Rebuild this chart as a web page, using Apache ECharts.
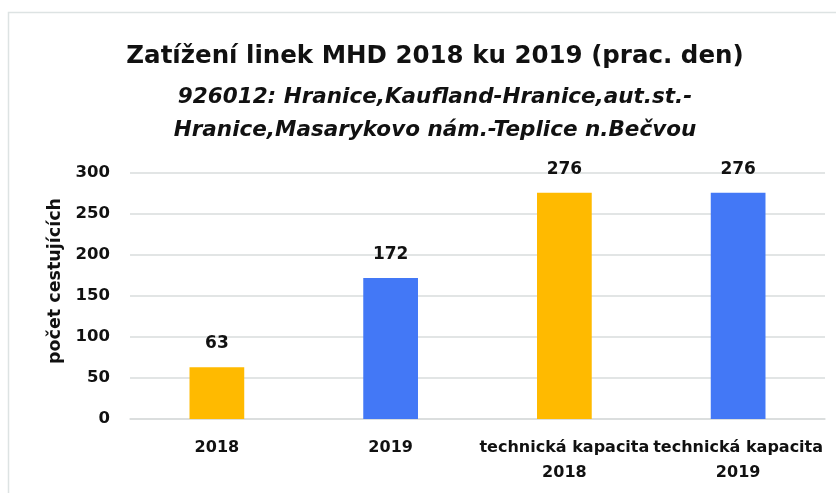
<!DOCTYPE html>
<html>
<head>
<meta charset="utf-8">
<script src="https://cdn.jsdelivr.net/npm/echarts@6/dist/echarts.min.js"></script>
<style>
  html, body { margin: 0; padding: 0; background: #fff; }
  #chart { width: 836px; height: 493px; }
</style>
</head>
<body>
<div id="chart"></div>
<script>
// Passenger load, line 926012, working day
const categories = ['2018', '2019', 'technická kapacita\n2018', 'technická kapacita\n2019'];
const passengers = [63, 172, 276, 276];
const barColors = ['#FFBA00', '#4378F6', '#FFBA00', '#4378F6'];
const yTicks = [0, 50, 100, 150, 200, 250, 300];

const titleText = 'Zatížení linek MHD 2018 ku 2019 (prac. den)';
const subtitleText = '926012: Hranice,Kaufland-Hranice,aut.st.-\nHranice,Masarykovo nám.-Teplice n.Bečvou';
const yAxisName = 'počet cestujících';

const FONT = '"DejaVu Sans", sans-serif';

const chart = echarts.init(document.getElementById('chart'), null, { renderer: 'canvas' });

chart.setOption({
  backgroundColor: '#ffffff',
  animation: false,
  graphic: [{
    // chart-area frame
    type: 'rect',
    shape: { x: 8.5, y: 12.5, width: 840, height: 500 },
    style: { fill: 'none', stroke: '#dde3e3', lineWidth: 1.5 },
    silent: true
  }, {
    // value axis title, rotated
    type: 'text',
    x: 55,
    y: 281,
    rotation: Math.PI / 2,
    style: {
      text: yAxisName,
      align: 'center',
      verticalAlign: 'middle',
      font: 'bold 17.5px "DejaVu Sans", sans-serif',
      fill: '#111'
    },
    silent: true
  }],
  title: [{
    text: titleText,
    left: 430,
    top: 39,
    textAlign: 'center',
    textStyle: { fontFamily: FONT, fontWeight: 'bold', fontSize: 24.5, color: '#111' }
  }, {
    text: subtitleText,
    left: 430,
    top: 76,
    textAlign: 'center',
    textStyle: {
      fontFamily: FONT, fontWeight: 'bold', fontStyle: 'italic',
      fontSize: 21.5, lineHeight: 33, color: '#111'
    }
  }],
  grid: { left: 130, right: 11, top: 173, bottom: 74, containLabel: false },
  xAxis: {
    type: 'category',
    data: categories,
    axisLine: { show: true, lineStyle: { color: '#d9dcdc', width: 1.5 } },
    axisTick: { show: false },
    axisLabel: {
      interval: 0,
      margin: 16,
      fontFamily: FONT, fontWeight: 'bold', fontSize: 16, color: '#111',
      lineHeight: 25
    }
  },
  yAxis: {
    type: 'value',
    min: yTicks[0],
    max: yTicks[yTicks.length - 1],
    interval: yTicks[1] - yTicks[0],
    axisLine: { show: false },
    axisTick: { show: false },
    splitLine: { lineStyle: { color: '#d9dcdc', width: 1.5 } },
    axisLabel: {
      margin: 20,
      fontFamily: FONT, fontWeight: 'bold', fontSize: 16.5, color: '#111'
    }
  },
  series: [{
    type: 'bar',
    barWidth: '31.5%',
    data: passengers.map((v, i) => ({ value: v, itemStyle: { color: barColors[i] } })),
    label: {
      show: true,
      position: 'top',
      distance: 15,
      fontFamily: FONT, fontWeight: 'bold', fontSize: 17, color: '#111'
    }
  }]
});
</script>
</body>
</html>
